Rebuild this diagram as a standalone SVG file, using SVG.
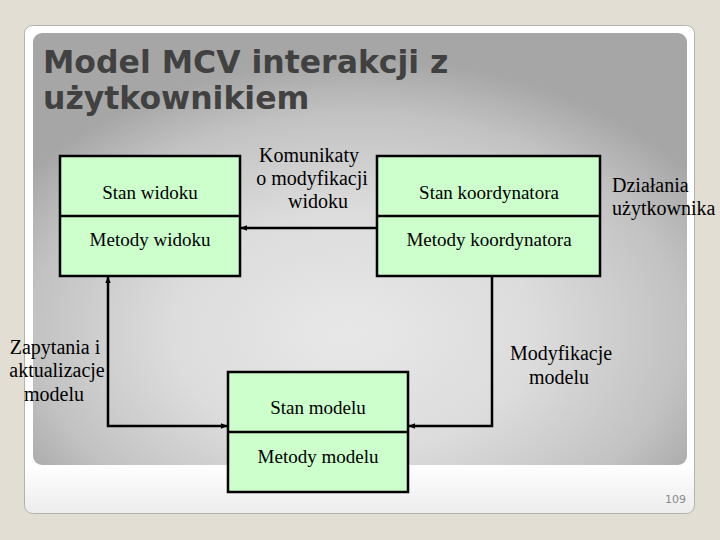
<svg xmlns="http://www.w3.org/2000/svg" width="720" height="540" viewBox="0 0 720 540">
<defs>
<radialGradient id="panelGrad" cx="0.5" cy="0.68" r="0.62" fx="0.48" fy="0.7">
<stop offset="0" stop-color="#e8e8e8"/>
<stop offset="0.45" stop-color="#dcdcdc"/>
<stop offset="0.8" stop-color="#c2c2c2"/>
<stop offset="1" stop-color="#a6a6a6"/>
</radialGradient>
<linearGradient id="cardGrad" x1="0" y1="0" x2="0" y2="1">
<stop offset="0.9" stop-color="#ffffff"/>
<stop offset="1" stop-color="#ececec"/>
</linearGradient>
<marker id="arr" viewBox="0 0 10 10" refX="9" refY="5" markerWidth="7" markerHeight="7" markerUnits="userSpaceOnUse" orient="auto-start-reverse">
<path d="M0,1 L10,5 L0,9 Z" fill="#000"/>
</marker>
<style>
.box{fill:#ccffcc;stroke:#000;stroke-width:2.5}
.div{stroke:#000;stroke-width:2.5}
.lbl{font-family:"Liberation Serif","Times New Roman",serif;font-size:19px;fill:#000;text-anchor:middle}
.side{font-family:"Liberation Serif","Times New Roman",serif;font-size:20px;fill:#000;text-anchor:middle}
.note{font-family:"Liberation Serif","Times New Roman",serif;font-size:20px;fill:#000}
.conn{fill:none;stroke:#000;stroke-width:2.5}
.title{font-family:"DejaVu Sans",Verdana,sans-serif;font-weight:bold;font-size:31.5px;fill:#414141}
</style>
</defs>
<rect x="0" y="0" width="720" height="540" fill="#e3ded4"/>
<rect x="24.5" y="25.5" width="670" height="488" rx="8" fill="url(#cardGrad)" stroke="#b5b2ac" stroke-width="1"/>
<rect x="33" y="33" width="654" height="432" rx="9" fill="url(#panelGrad)"/>
<g id="title">
<text class="title" x="43" y="73">Model MCV interakcji z</text>
<text class="title" x="43" y="109">użytkownikiem</text>
</g>
<g id="connectors">
<path class="conn" d="M377,228 H241" marker-end="url(#arr)"/>
<path class="conn" d="M108,277 V426 H227" marker-start="url(#arr)" marker-end="url(#arr)"/>
<path class="conn" d="M492,276 V426 H409" marker-end="url(#arr)"/>
</g>
<g id="view">
<rect class="box" x="60" y="156" width="180" height="120"/>
<line class="div" x1="60" y1="216" x2="240" y2="216"/>
<text class="lbl" x="150" y="199">Stan widoku</text>
<text class="lbl" x="150" y="246">Metody widoku</text>
</g>
<g id="coordinator">
<rect class="box" x="377" y="156" width="223" height="120"/>
<line class="div" x1="377" y1="216" x2="600" y2="216"/>
<text class="lbl" x="489" y="199">Stan koordynatora</text>
<text class="lbl" x="489" y="246">Metody koordynatora</text>
</g>
<g id="model">
<rect class="box" x="228" y="372" width="180" height="120"/>
<line class="div" x1="228" y1="432" x2="408" y2="432"/>
<text class="lbl" x="318" y="414">Stan modelu</text>
<text class="lbl" x="318" y="463">Metody modelu</text>
</g>
<g id="labels">
<text class="side" x="309" y="162">Komunikaty</text>
<text class="side" x="312" y="185">o modyfikacji</text>
<text class="side" x="318" y="208">widoku</text>
<text class="note" x="612" y="192">Działania</text>
<text class="note" x="612" y="215">użytkownika</text>
<text class="side" x="55" y="354">Zapytania i</text>
<text class="side" x="57" y="377">aktualizacje</text>
<text class="side" x="54" y="401">modelu</text>
<text class="side" x="561" y="360">Modyfikacje</text>
<text class="side" x="559" y="384">modelu</text>
</g>
<text x="686" y="503" font-family="'DejaVu Sans',Verdana,sans-serif" font-size="11" fill="#8a8a8a" text-anchor="end">109</text>
</svg>
